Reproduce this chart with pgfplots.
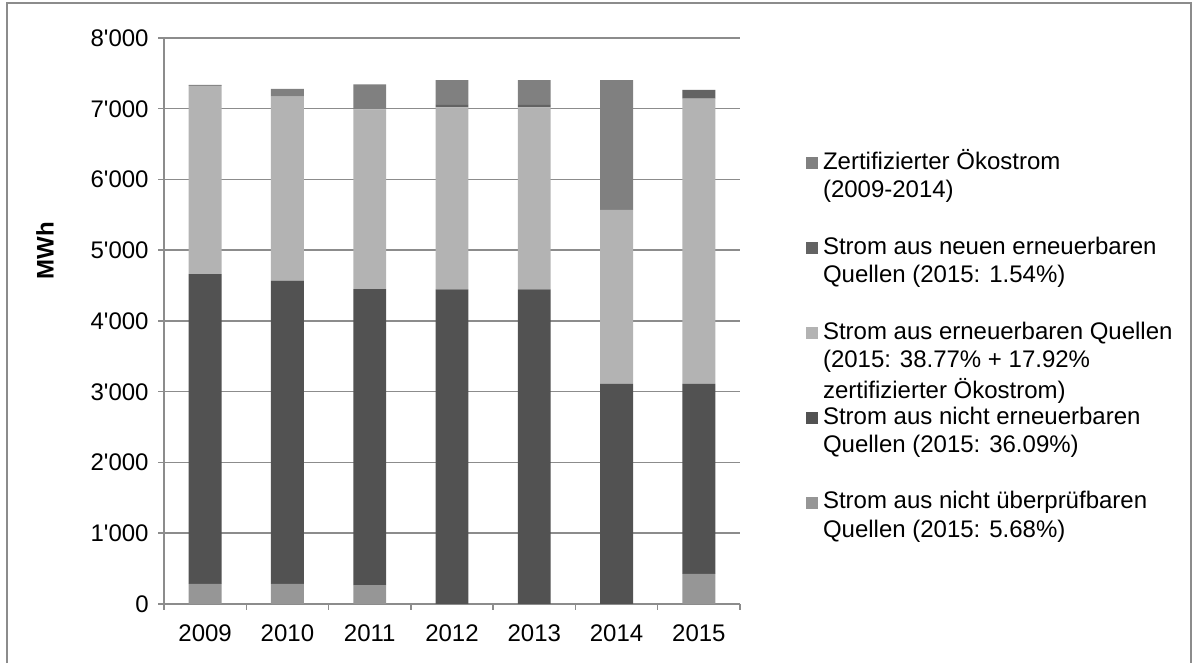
\documentclass[border=0pt]{standalone}
\usepackage{fontspec}
\newfontfamily\arial{Liberation Sans}
\usepackage{pgfplots}
\pgfplotsset{compat=1.18}
\definecolor{cUnv}{HTML}{969696}
\definecolor{cNon}{HTML}{525252}
\definecolor{cRen}{HTML}{B3B3B3}
\definecolor{cNew}{HTML}{636363}
\definecolor{cCert}{HTML}{808080}
\definecolor{gridgray}{HTML}{8C8C8C}
\definecolor{framegray}{HTML}{8C8C8C}
\newcommand{\lgt}[3]{\vtop{\hbox{\strut #1}\hbox{\strut #2}\hbox{\strut #3}}}
\begin{document}
\arial\fontsize{12}{14.15}\selectfont
\begin{tikzpicture}[font=\arial\fontsize{12}{14.15}\selectfont]
\draw[framegray, line width=1pt] (3.5pt,0pt) -- (3.5pt,330pt) -- (595.5pt,330pt) -- (595.5pt,0pt);
\begin{axis}[
  at={(82pt,29.5pt)}, anchor=south west,
  scale only axis, width=288pt, height=283pt,
  ybar stacked, bar width=0.4,
  xmin=0.5, xmax=7.5, ymin=0, ymax=8000,
  enlargelimits=false,
  axis lines*=left,
  axis line style={draw=gridgray, line width=0.75pt},
  ymajorgrids,
  grid style={draw=gridgray, line width=0.75pt},
  tick align=outside,
  major tick length=3pt,
  xtick={1,2,3,4,5,6,7},
  xticklabels={2009,2010,2011,2012,2013,2014,2015},
  xtick style={draw=none},
  extra x ticks={0.5,1.5,2.5,3.5,4.5,5.5,6.5,7.5},
  extra x tick labels={},
  extra x tick style={xtick style={draw=gridgray, line width=0.75pt}},
  ytick={0,1000,2000,3000,4000,5000,6000,7000,8000},
  yticklabels={0,1'000,2'000,3'000,4'000,5'000,6'000,7'000,8'000},
  ytick style={draw=gridgray, line width=0.75pt},
  yticklabel style={anchor=east, inner sep=0pt, xshift=-4.5pt},
  xticklabel style={anchor=north, inner sep=0pt, yshift=-7pt},
  ylabel={\bfseries MWh},
  ylabel style={at={(axis description cs:-0.2066,0.6237)}, anchor=center},
  reverse legend,
  legend image code/.code={\path[fill=none,draw=none] (0pt,-31.95pt) rectangle (6pt,10.5pt);\fill[#1] (0pt,0.2pt) rectangle (6pt,6.2pt);},
  legend style={at={(axis description cs:1.1146,0.805)}, anchor=north west,
    draw=none, fill=none, inner sep=0pt, outer sep=0pt,
    row sep=0pt, column sep=2.5pt,
    nodes={inner sep=0pt, outer sep=0pt},
    cells={anchor=base west}},
]
\addplot[fill=cUnv, draw=none] coordinates {(1,283) (2,283) (3,268) (4,0) (5,0) (6,0) (7,424)};
\addlegendentry{\lgt{Strom aus nicht überprüfbaren}{Quellen (2015: 5.68\%)}{}}
\addplot[fill=cNon, draw=none] coordinates {(1,4381) (2,4287) (3,4184) (4,4448) (5,4448) (6,3110) (7,2686)};
\addlegendentry{\lgt{Strom aus nicht erneuerbaren}{Quellen (2015: 36.09\%)}{}}
\addplot[fill=cRen, draw=none] coordinates {(1,2658) (2,2600) (3,2540) (4,2572) (5,2572) (6,2459) (7,4032)};
\addlegendentry{\lgt{Strom aus erneuerbaren Quellen}{(2015: 38.77\% + 17.92\%}{zertifizierter Ökostrom)}}
\addplot[fill=cNew, draw=none] coordinates {(1,0) (2,0) (3,0) (4,33) (5,33) (6,0) (7,123)};
\addlegendentry{\lgt{Strom aus neuen erneuerbaren}{Quellen (2015: 1.54\%)}{}}
\addplot[fill=cCert, draw=none] coordinates {(1,14) (2,110) (3,354) (4,353) (5,353) (6,1837) (7,0)};
\addlegendentry{\lgt{Zertifizierter Ökostrom}{(2009-2014)}{}}
\end{axis}
\pgfresetboundingbox
\path[use as bounding box] (0pt,0pt) rectangle (596pt,331.5pt);
\end{tikzpicture}
\end{document}
